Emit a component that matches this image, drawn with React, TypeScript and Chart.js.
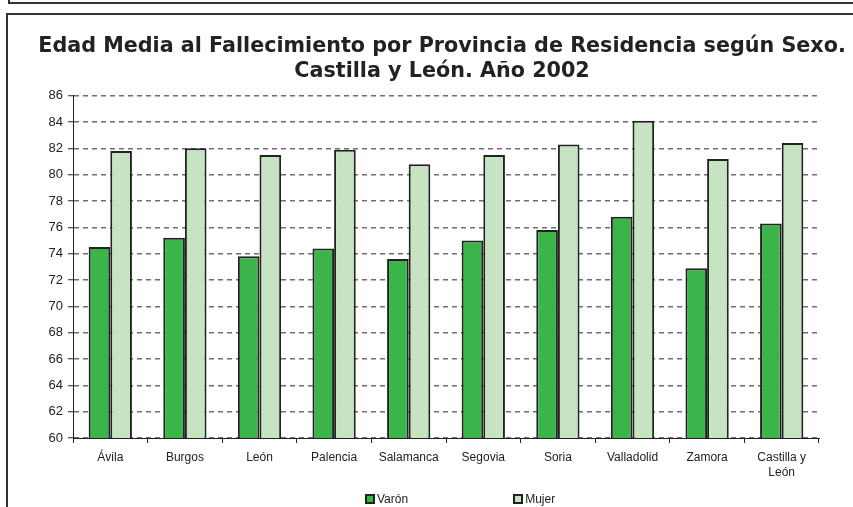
import React, { useEffect, useRef } from "react";
import { Chart, registerables } from "chart.js";

Chart.register(...registerables);

const categories: (string | string[])[] = [
  "Ávila",
  "Burgos",
  "León",
  "Palencia",
  "Salamanca",
  "Segovia",
  "Soria",
  "Valladolid",
  "Zamora",
  ["Castilla y", "León"],
];
const varon = [74.5, 75.2, 73.8, 74.4, 73.6, 75.0, 75.8, 76.8, 72.9, 76.3];
const mujer = [81.8, 82.0, 81.5, 81.9, 80.8, 81.5, 82.3, 84.1, 81.2, 82.4];
const seriesNames = ["Varón", "Mujer"];
const seriesColors = ["#3bb54a", "#c7e4c2"];
const titleLines = [
  "Edad Media al Fallecimiento por Provincia de Residencia según Sexo.",
  "Castilla y León. Año 2002",
];
const yMin = 60;
const yMax = 86;
const yStep = 2;

const FONT = "Arial, 'Liberation Sans', sans-serif";

export default function App() {
  const canvasRef = useRef<HTMLCanvasElement | null>(null);

  useEffect(() => {
    if (!canvasRef.current) return;
    const chart = new Chart(canvasRef.current, {
      type: "bar",
      data: {
        labels: categories as any,
        datasets: [
          {
            label: seriesNames[0],
            data: varon,
            backgroundColor: seriesColors[0],
            borderColor: "#222",
            borderWidth: 2,
            borderSkipped: false,
            categoryPercentage: 0.58,
            barPercentage: 1,
          },
          {
            label: seriesNames[1],
            data: mujer,
            backgroundColor: seriesColors[1],
            borderColor: "#222",
            borderWidth: 2,
            borderSkipped: false,
            categoryPercentage: 0.58,
            barPercentage: 1,
          },
        ],
      },
      options: {
        animation: false,
        responsive: false,
        layout: { padding: { left: 0, right: 0, top: 0, bottom: 29 } },
        plugins: {
          legend: { display: false },
          tooltip: { enabled: false },
          title: {
            display: true,
            text: titleLines,
            color: "#222",
            font: { family: "'DejaVu Sans'", weight: "bold", size: 20.7, lineHeight: 1.2 },
            padding: { top: 18, bottom: 12 },
          },
        },
        scales: {
          x: {
            grid: {
              drawOnChartArea: false,
              tickLength: 5,
              color: "#222",
              offset: true,
            },
            border: { color: "#222", width: 1 },
            ticks: {
              font: { family: FONT, size: 12, lineHeight: 1.25 },
              color: "#222",
              padding: 7,
              maxRotation: 0,
              autoSkip: false,
            },
            afterFit: (s: any) => {
              s.height = 40;
            },
          },
          y: {
            min: yMin,
            max: yMax,
            ticks: {
              stepSize: yStep,
              font: { family: FONT, size: 13 },
              color: "#222",
              padding: 5,
            },
            grid: {
              color: "#6f6f6f",
              lineWidth: 1.5,
              tickLength: 5,
              tickColor: "#222",
              tickWidth: 1,
              tickBorderDash: [],
              borderDash: [5, 4],
            } as any,
            border: { color: "#222", width: 1, dash: [5, 4] } as any,
            afterFit: (s: any) => {
              s.width = 42;
            },
          },
          yRight: {
            type: "linear",
            position: "right",
            display: true,
            grid: { display: false, drawTicks: false },
            ticks: { display: false },
            border: { display: false },
            afterFit: (s: any) => {
              s.width = 34;
            },
          } as any,
        },
      },
    });
    return () => chart.destroy();
  }, []);

  return (
    <div
      style={{
        position: "fixed",
        left: 0,
        top: 0,
        width: 853,
        height: 507,
        background: "#fff",
        overflow: "hidden",
      }}
    >
      <div
        style={{
          position: "absolute",
          left: 8,
          top: -4,
          width: 900,
          height: 6,
          borderLeft: "2px solid #333",
          borderBottom: "2px solid #333",
        }}
      />
      <div
        style={{
          position: "absolute",
          left: 6,
          top: 13,
          width: 900,
          height: 600,
          borderLeft: "2px solid #333",
          borderTop: "2px solid #333",
        }}
      />
      <canvas
        ref={canvasRef}
        width={822}
        height={491}
        style={{ position: "absolute", left: 31, top: 16, width: 822, height: 491 }}
      />
      <div
        style={{
          position: "absolute",
          left: 365,
          top: 492,
          display: "flex",
          gap: 105,
          fontFamily: FONT,
          fontSize: 12,
          color: "#222",
          lineHeight: "14px",
        }}
      >
        {seriesNames.map((n, i) => (
          <div key={n} style={{ display: "flex", alignItems: "center" }}>
            <span
              style={{
                display: "inline-block",
                width: 6,
                height: 6,
                border: "2px solid #222",
                background: seriesColors[i],
                marginRight: 2,
              }}
            />
            <span>{n}</span>
          </div>
        ))}
      </div>
    </div>
  );
}
